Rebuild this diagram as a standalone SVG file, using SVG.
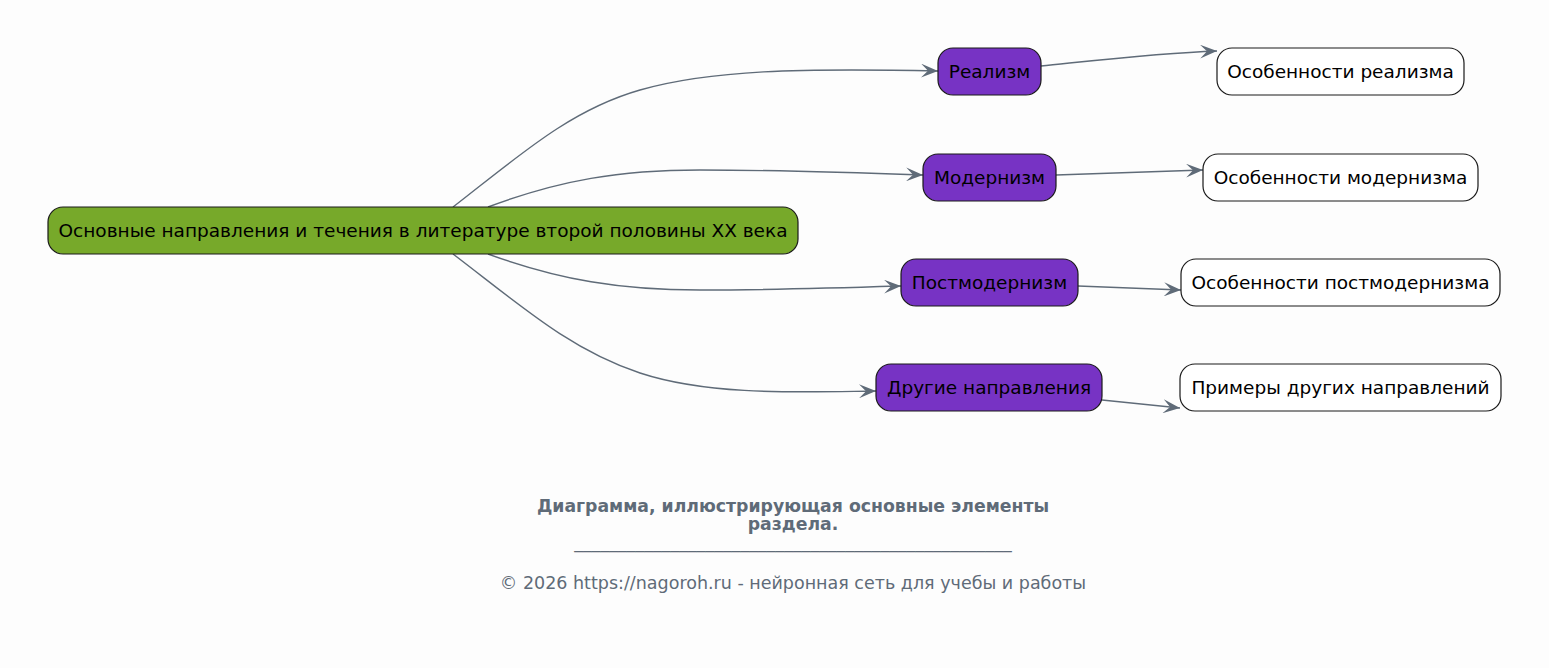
<svg xmlns="http://www.w3.org/2000/svg" width="1549" height="668" viewBox="0 0 1549 668">
<style>
text{font-family:"DejaVu Sans","Noto Sans",sans-serif;fill:#000}
.n text{font-size:18.5px}
.n rect{stroke:#1a1a1a;stroke-width:1.2}
.root rect{fill:#77a92a}
.mid rect{fill:#7733c4}
.leaf rect{fill:#ffffff}
.e path{fill:none;stroke:#5f6b78;stroke-width:1.4;marker-end:url(#ah)}
.cap{fill:#5f6b78}
.t{font-size:17.3px;font-weight:bold}
.c{font-size:17.5px}
</style>
<defs>
<marker id="ah" markerUnits="userSpaceOnUse" viewBox="0 0 18 14" refX="17" refY="7" markerWidth="18" markerHeight="14" orient="auto">
<path d="M0,0 L17,7 L0,14 L7,7 z" fill="#5f6b78"/>
</marker>
</defs>
<rect width="1549" height="668" fill="#fdfdfd"/>
<g id="connectors" class="e">
<path d="M453,207 C520,155 570,110 640,90 C710,70 800,68 938,71"/>
<path d="M488,207 C560,180 620,170 700,170 C780,170 840,172 923,175"/>
<path d="M488,254 C560,280 620,290 700,290 C780,290 840,288 901,286"/>
<path d="M453,254 C520,305 570,350 640,373 C710,396 800,392 876,391"/>
<path d="M1041,66 C1100,60 1160,53 1217,51"/>
<path d="M1056,175 L1203,170"/>
<path d="M1078,286 L1181,290"/>
<path d="M1102,400 L1180,408"/>
</g>
<g id="root" class="n root"><rect x="48" y="207" width="750" height="47" rx="15"/><text x="423" y="237" text-anchor="middle">Основные направления и течения в литературе второй половины XX века</text></g>
<g id="realism" class="n mid"><rect x="938" y="48" width="103" height="47" rx="15"/><text x="989.5" y="78" text-anchor="middle">Реализм</text></g>
<g id="modernism" class="n mid"><rect x="923" y="154" width="133" height="47" rx="15"/><text x="989.5" y="184" text-anchor="middle">Модернизм</text></g>
<g id="postmodernism" class="n mid"><rect x="901" y="259" width="177" height="47" rx="15"/><text x="989.5" y="289" text-anchor="middle">Постмодернизм</text></g>
<g id="other" class="n mid"><rect x="876" y="364" width="226" height="47" rx="15"/><text x="989" y="394" text-anchor="middle">Другие направления</text></g>
<g id="f-realism" class="n leaf"><rect x="1217" y="48" width="247" height="47" rx="15"/><text x="1340.5" y="78" text-anchor="middle">Особенности реализма</text></g>
<g id="f-modernism" class="n leaf"><rect x="1203" y="154" width="275" height="47" rx="15"/><text x="1340.5" y="184" text-anchor="middle">Особенности модернизма</text></g>
<g id="f-postmodernism" class="n leaf"><rect x="1181" y="259" width="319" height="47" rx="15"/><text x="1340.5" y="289" text-anchor="middle">Особенности постмодернизма</text></g>
<g id="f-other" class="n leaf"><rect x="1180" y="364" width="321" height="47" rx="15"/><text x="1340.5" y="394" text-anchor="middle">Примеры других направлений</text></g>
<g id="caption">
<text class="cap t" x="793" y="512" text-anchor="middle">Диаграмма, иллюстрирующая основные элементы</text>
<text class="cap t" x="793" y="530" text-anchor="middle">раздела.</text>
<text class="cap c" x="793" y="548" text-anchor="middle">__________________________________________________</text>
<text class="cap c" x="793" y="589" text-anchor="middle">© 2026 https://nagoroh.ru - нейронная сеть для учебы и работы</text>
</g>
</svg>
